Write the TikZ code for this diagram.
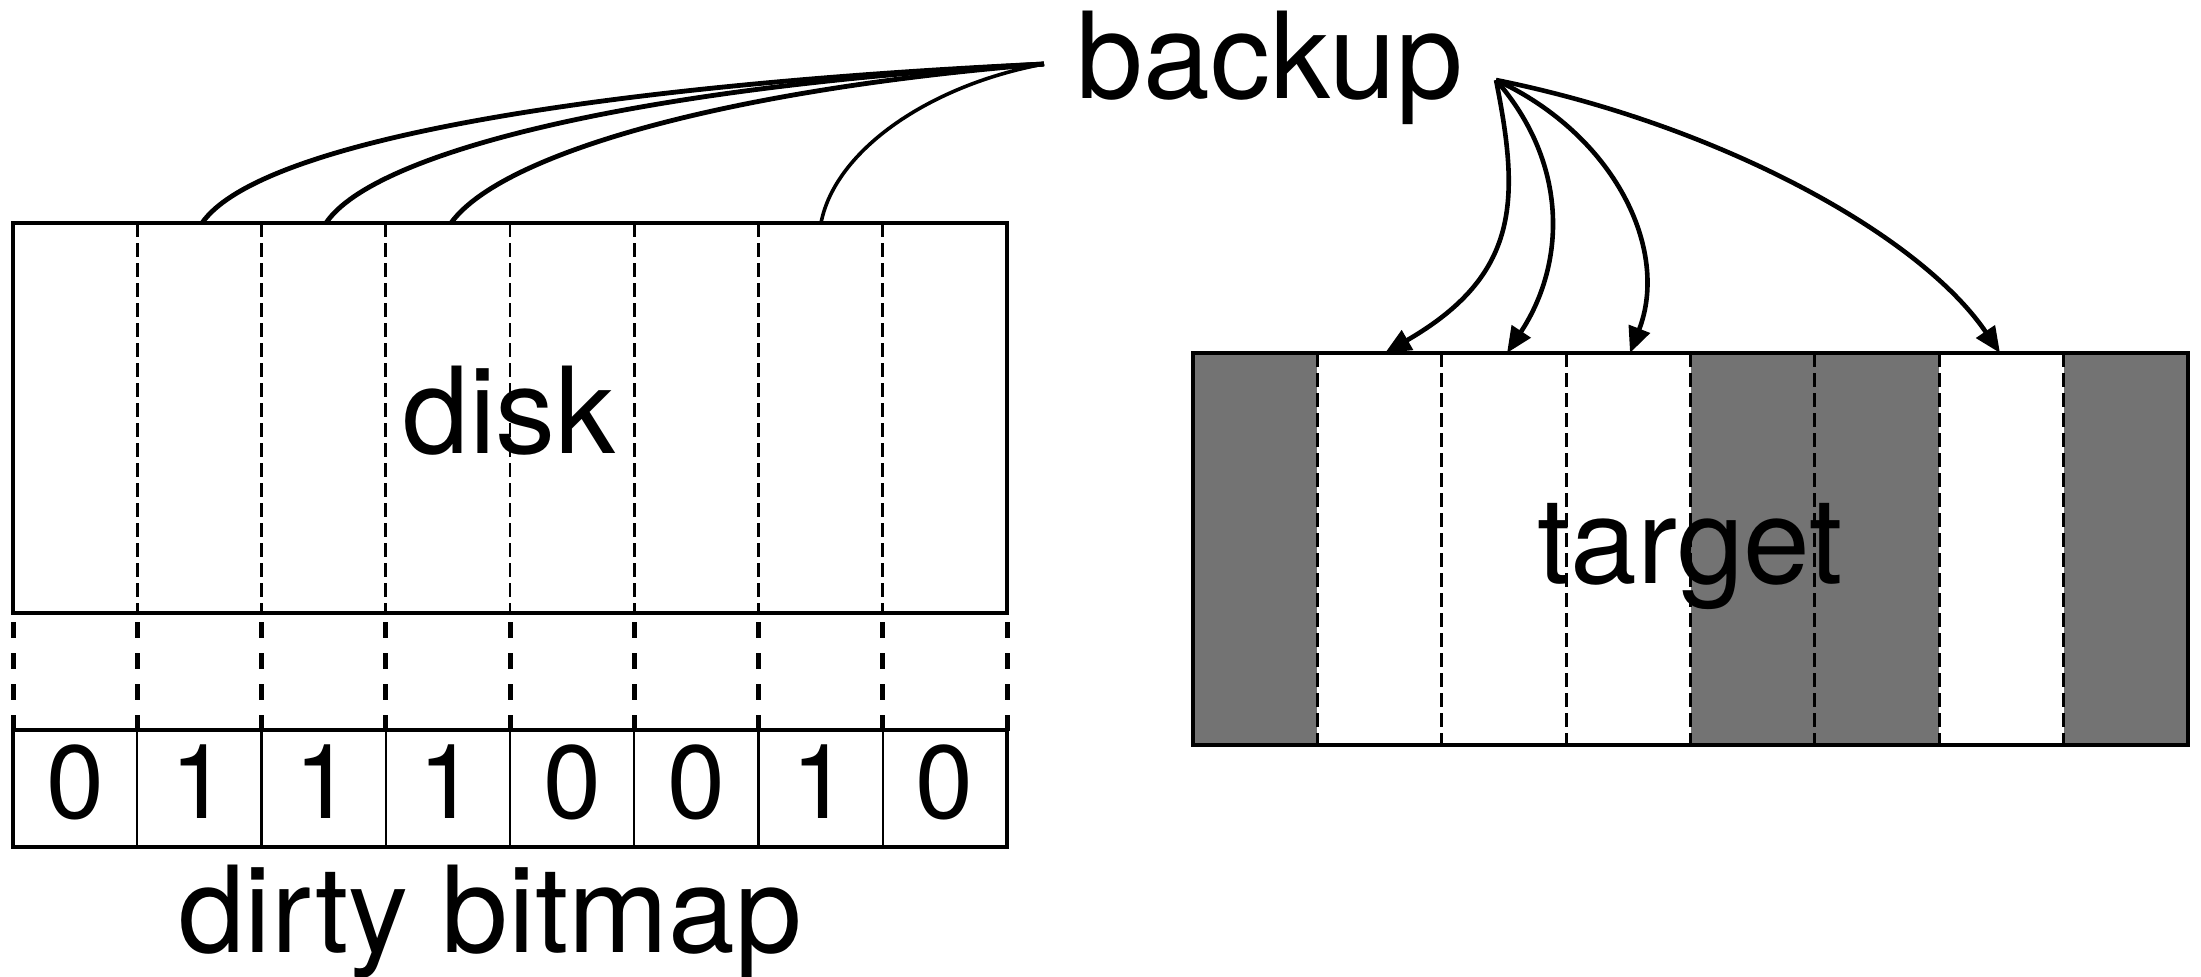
\documentclass[tikz,border=0pt]{standalone}
\usepackage{fontspec}
\setmainfont{TeX Gyre Heros}
\usetikzlibrary{arrows.meta}
\definecolor{shadegray}{HTML}{737373}
\begin{document}
\begin{tikzpicture}[x=0.5pt,y=-0.5pt,
  boxst/.style={draw=black, line width=1.9pt, inner sep=0pt, outer sep=0pt, anchor=north west},
  cellst/.style={draw=black, line width=1.1pt, inner sep=0pt, outer sep=0pt, anchor=north west,
                 minimum width=62.125pt, minimum height=58.5pt},
  coldash/.style={line width=1.4pt, dash pattern=on 7pt off 3pt},
  gapdash/.style={line width=2.5pt, dash pattern=on 8pt off 7.5pt},
  txt/.style={font=\fontsize{60}{72}\selectfont, inner sep=0pt, anchor=base},
  digit/.style={font=\fontsize{52}{62}\selectfont, inner sep=0pt, anchor=base},
  link/.style={line width=2.4pt},
  arr/.style={line width=2.3pt, -{Triangle[length=13pt,width=11pt]}}
]
\useasboundingbox (0,0) rectangle (2201,976);

% target shaded blocks
\foreach \i in {0,4,5,7}
  \fill[shadegray] ({1193+124.375*\i},353) rectangle ({1193+124.375*(\i+1)},745);

% dashed block separators
\foreach \i in {1,...,7}
  \draw[coldash] ({13+124.25*\i},223) -- ({13+124.25*\i},613);
\foreach \i in {1,...,7}
  \draw[coldash] ({1193+124.375*\i},353) -- ({1193+124.375*\i},745);
\foreach \i in {0,...,8}
  \draw[gapdash] ({13+124.25*\i},622) -- ({13+124.25*\i},732);

% main boxes
\node[boxst, minimum width=497pt, minimum height=195pt] (disk) at (13,223) {};
\node[boxst, minimum width=497.5pt, minimum height=196pt] (target) at (1193,353) {};

% bitmap cells
\foreach \i/\b in {0/0,1/1,2/1,3/1,4/0,5/0,6/1,7/0} {
  \node[cellst] (cell\i) at ({13+124.25*\i},730) {};
  \node[digit] (bit\i) at ({13+124.25*(\i+0.5)},818) {\b};
}
\draw[line width=1.9pt] (cell0.north west) rectangle (cell7.south east);

% labels
\node[txt] (disklabel) at (509,453) {disk};
\node[txt] (targetlabel) at (1690,583) {target};
\node[txt] (bitmaplabel) at (490,952) {dirty bitmap};
\node[txt] (backup) at (1270,98) {backup};

% connector ends
\coordinate (bkL) at (1044,64);
\coordinate (bkR) at (1496,80);
\coordinate (dt1) at (202,223);
\coordinate (dt2) at (326,223);
\coordinate (dt3) at (451,223);
\coordinate (dt6) at (821,223);
\coordinate (tt1) at (1385,353);
\coordinate (tt2) at (1507,353);
\coordinate (tt3) at (1630,353);
\coordinate (tt6) at (2000,353);

% reads from disk
\draw[link] (dt1) .. controls (260,140) and (600,85) .. (bkL);
\draw[link] (dt2) .. controls (375,150) and (650,85) .. (bkL);
\draw[link] (dt3) .. controls (500,155) and (720,90) .. (bkL);
\draw[link, line width=1.8pt] (dt6) .. controls (835,150) and (930,85) .. (bkL);

% writes to target
\draw[arr] (bkR) .. controls (1520,200) and (1520,275) .. (tt1);
\draw[arr] (bkR) .. controls (1570,165) and (1565,265) .. (tt2);
\draw[arr] (bkR) .. controls (1615,135) and (1670,250) .. (tt3);
\draw[arr] (bkR) .. controls (1720,125) and (1920,235) .. (tt6);
\end{tikzpicture}
\end{document}
